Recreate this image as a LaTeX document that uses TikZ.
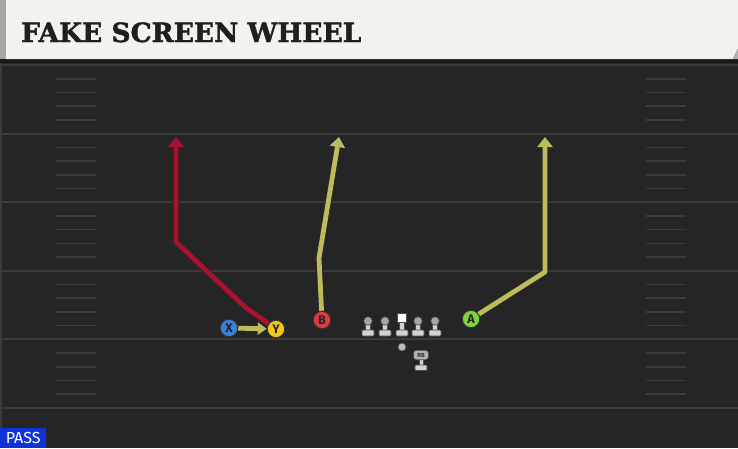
\documentclass[tikz,border=0pt]{standalone}
\usepackage{fontspec}
\setsansfont{Fira Sans}
\newfontfamily\titlefont{DejaVu Serif}[BoldFeatures={FakeBold=1.5}]
\usetikzlibrary{arrows.meta, positioning}

\definecolor{fieldgray}{HTML}{252525}
\definecolor{linegray}{HTML}{3B3B3B}
\definecolor{headercream}{HTML}{F4F2EC}
\definecolor{routered}{HTML}{A8112F}
\definecolor{routeyellow}{HTML}{BDBB5C}
\definecolor{xblue}{HTML}{3C7FDB}
\definecolor{yyellow}{HTML}{F4C51B}
\definecolor{bred}{HTML}{E2383D}
\definecolor{agreen}{HTML}{7CD43B}
\definecolor{passblue}{HTML}{1232D8}
\definecolor{pawngray}{HTML}{D2D2D2}

\begin{document}
\begin{tikzpicture}[
    x=1pt, y=-1pt,
    yardline/.style={draw=linegray, line width=2pt},
    hashmark/.style={draw=linegray, line width=1.6pt},
    route/.style={line width=4.8pt, line join=round, -{Triangle[width=15pt,length=10pt]},
        preaction={draw=black!85, line width=6.8pt, -{Triangle[width=18pt,length=12pt]}}},
    redroute/.style={route, draw=routered},
    yellowroute/.style={route, draw=routeyellow},
    player/.style={circle, draw=black!80, line width=1pt, minimum size=17.5pt, inner sep=0pt, text=black!85, font=\sffamily\bfseries\fontsize{12.5}{12.5}\selectfont},
    pawn/.style={fill=pawngray, draw=black!70, line width=0.6pt},
    head/.style={circle, fill=gray!70, draw=black!70, line width=0.6pt, minimum size=8.5pt, inner sep=0pt}
]
    \useasboundingbox (0,0) rectangle (738,448);

    % Field
    \fill[fieldgray] (0,0) rectangle (738,448);
    \draw[linegray, line width=2pt] (1,58) -- (1,448);
    \foreach \i in {0,...,5}
        \draw[yardline] (0,65+68.6*\i) -- (738,65+68.6*\i);
    \foreach \i in {0,...,4} {
        \foreach \k in {1,...,4} {
            \draw[hashmark] (56,65+68.6*\i+13.7*\k) -- (96,65+68.6*\i+13.7*\k);
            \draw[hashmark] (646,65+68.6*\i+13.7*\k) -- (686,65+68.6*\i+13.7*\k);
        }
    }

    % Header
    \fill[black!90] (0,57) rectangle (738,63);
    \fill[gray!70] (0,0) rectangle (6,59);
    \fill[headercream] (6,0) -- (738,0) -- (738,48) -- (733,59) -- (6,59) -- cycle;
    \fill[gray!60] (733,59) -- (738,48) -- (738,59) -- cycle;
    \node[anchor=base west, inner sep=0pt, text=black!88, font=\titlefont\bfseries\fontsize{26.5}{26.5}\selectfont] (title) at (21,42) {FAKE SCREEN WHEEL};

    % Play tag
    \node[fill=passblue, text=white, anchor=south west, minimum width=46pt, minimum height=20pt, inner sep=0pt, font=\sffamily\fontsize{16}{16}\selectfont] (pass) at (0,448) {PASS};

    % Line
    \foreach \x [count=\i] in {368,385,418,435} {
        \fill[pawn] (\x-2.5,321) rectangle (\x+2.5,331);
        \fill[pawn, rounded corners=1pt] (\x-6,330) rectangle (\x+6,336);
        \node[head] (ol\i) at (\x,321) {};
    }
    \fill[pawn] (399.5,320) rectangle (404.5,331);
    \fill[pawn, rounded corners=1pt] (396,330) rectangle (408,336);
    \node[fill=white, draw=black!70, line width=0.6pt, minimum size=9pt, inner sep=0pt] (C) at (402,318) {};

    % Ball and back
    \node[circle, fill=gray!55, draw=black!70, line width=0.6pt, minimum size=8pt, inner sep=0pt] (ball) at (402,347) {};
    \fill[pawn] (419,359) rectangle (423,366);
    \fill[pawn, rounded corners=1pt] (415,365) rectangle (427,370.5);
    \node[fill=gray!60, draw=black!70, line width=0.6pt, rounded corners=3pt, minimum width=15pt, minimum height=9.5pt, inner sep=0pt, text=black!80, font=\sffamily\bfseries\fontsize{6}{6}\selectfont] (RB) at (421,355) {RB};

    % Route points
    \coordinate (y1) at (245,307);
    \coordinate (y2) at (176,242);
    \coordinate (yEnd) at (176,137);
    \coordinate (b1) at (319,258);
    \coordinate (bEnd) at (339,137);
    \coordinate (a1) at (545,272);
    \coordinate (aEnd) at (545,137);

    % Players
    \node[player, fill=xblue] (X) at (229,328) {X};
    \node[player, fill=yyellow] (Y) at (276,329) {Y};
    \node[player, fill=bred] (B) at (322,320) {B};
    \node[player, fill=agreen] (A) at (471,319) {A};

    % Routes
    \draw[redroute] (Y) -- (y1) -- (y2) -- (yEnd);
    \draw[yellowroute] (B) -- (b1) -- (bEnd);
    \draw[yellowroute] (A) -- (a1) -- (aEnd);
    \draw[yellowroute, -{Triangle[width=12pt,length=9pt]},
        preaction={draw=black!85, line width=6.8pt, -{Triangle[width=15pt,length=11pt]}}] (X) -- (Y);
\end{tikzpicture}
\end{document}
